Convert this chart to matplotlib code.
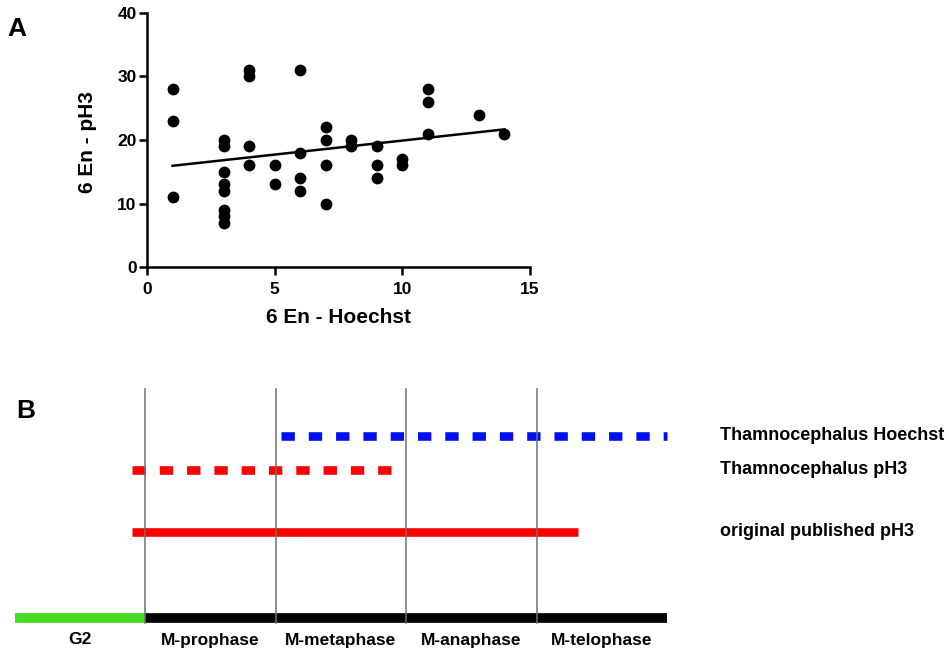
import numpy as np
import matplotlib
matplotlib.use("Agg")
import matplotlib.pyplot as plt

plt.rcParams['font.family'] = ['Liberation Sans', 'DejaVu Sans']
plt.rcParams['font.weight'] = 'bold'

# panel A: 6 En counts, Hoechst vs pH3
hoechst = [1, 1, 1,
           3, 3, 3, 3, 3, 3, 3, 3,
           4, 4, 4, 4,
           5, 5,
           6, 6, 6, 6,
           7, 7, 7, 7,
           8, 8,
           9, 9, 9,
           10, 10,
           11, 11, 11,
           13, 14]
ph3 = [28, 23, 11,
       20, 19, 15, 13, 12, 9, 8, 7,
       31, 30, 19, 16,
       16, 13,
       31, 18, 14, 12,
       22, 20, 16, 10,
       20, 19,
       19, 16, 14,
       17, 16,
       28, 26, 21,
       24, 21]

# panel B: cell-cycle phases (phase units, one unit per phase)
phases = ['G2', 'M-prophase', 'M-metaphase', 'M-anaphase', 'M-telophase']
phase_start = [0, 1, 2, 3, 4]
phase_end = [1, 2, 3, 4, 5]
phase_colors = ['#44dd22', 'black', 'black', 'black', 'black']

series_names = ['Thamnocephalus Hoechst', 'Thamnocephalus pH3', 'original published pH3']
series_start = [2.04, 0.90, 0.90]
series_end = [5.00, 2.94, 4.32]
series_colors = ['#0010ee', '#ff0000', '#ff0000']
series_dashed = [True, True, False]

fig = plt.figure(figsize=(9.5, 6.52), dpi=100)

# ---- panel A ----
ax = fig.add_axes([147 / 950, 1 - 267 / 652, 383 / 950, 254 / 652])
ax.scatter(hoechst, ph3, s=56, color='black', zorder=3)
slope, icpt = np.polyfit(hoechst, ph3, 1)
xf = np.array([min(hoechst), max(hoechst)])
ax.plot(xf, slope * xf + icpt, color='black', lw=1.8)
ax.set_xlim(0, 15)
ax.set_ylim(0, 40)
ax.set_xticks([0, 5, 10, 15])
ax.set_yticks([0, 10, 20, 30, 40])
for s in ['top', 'right']:
    ax.spines[s].set_visible(False)
for s in ['left', 'bottom']:
    ax.spines[s].set_linewidth(1.8)
ax.tick_params(width=1.8, length=5.5, labelsize=12.5)
ax.tick_params(axis='y', pad=2)
ax.tick_params(axis='x', pad=5)
ax.set_xlabel('6 En - Hoechst', fontsize=15, fontweight='bold', va='center')
ax.set_ylabel('6 En - pH3', fontsize=15, fontweight='bold', va='center')
ax.xaxis.set_label_coords(0.501, -0.197)
ax.yaxis.set_label_coords(-0.155, 0.49)
fig.text(7 / 950, 1 - 29 / 652, 'A', fontsize=19, fontweight='bold', va='center')

# ---- panel B ----
bx = fig.add_axes([0, 0, 1, 272 / 652])
bx.set_xlim(-15 / 130.4, 935 / 130.4)
bx.set_ylim(652, 380)
bx.axis('off')

bar_y = 618
row_y = [436, 470, 532]
label_x = 5.41

for st, en, c in zip(phase_start, phase_end, phase_colors):
    bx.plot([st, en], [bar_y, bar_y], color=c, lw=7, solid_capstyle='butt')
for name, st, en in zip(phases, phase_start, phase_end):
    bx.text((st + en) / 2, 640, name, ha='center', va='center', fontsize=12.5, fontweight='bold')
for b in phase_start[1:]:
    bx.plot([b, b], [389, 623], color='#707070', lw=1.1, zorder=5)

for name, st, en, c, d, y in zip(series_names, series_start, series_end,
                                 series_colors, series_dashed, row_y):
    ls = (0, (1.55, 1.62)) if d else '-'
    bx.plot([st, en], [y, y], color=c, lw=6.2, linestyle=ls,
            solid_capstyle='butt', dash_capstyle='butt', zorder=3)
    bx.text(label_x, y, name, ha='left', va='center', fontsize=13, fontweight='bold')

fig.text(16 / 950, 1 - 411 / 652, 'B', fontsize=19, fontweight='bold', va='center')

fig.savefig('out.png', dpi=100)
